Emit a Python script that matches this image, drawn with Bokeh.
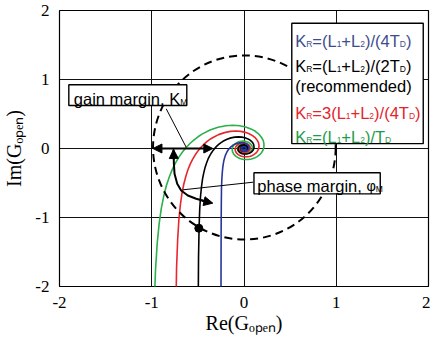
from bokeh.plotting import figure
from bokeh.models import Range1d, FixedTicker, Label, Arrow, NormalHead
from bokeh.embed import file_html
from bokeh.resources import INLINE

# ---------------- data ----------------
ticks = [-2, -1, 0, 1, 2]
tick_labels = ["-2", "-1", "0", "1", "2"]
x_title = "Re(G\u2092\u209a\u2091\u2099)"
y_title = "Im(G\u2092\u209a\u2091\u2099)"

# Nyquist curves
green_x = [-0.998,-0.993,-0.985,-0.974,-0.959,-0.941,-0.920,-0.897,-0.870,-0.842,-0.810,-0.777,-0.741,-0.704,-0.665,-0.625,-0.583,-0.541,-0.498,-0.455,
           -0.368,-0.281,-0.198,-0.120,-0.047,0.018,0.075,0.123,0.161,0.189,0.208,0.216,0.216,0.208,0.192,0.170,0.143,0.113,0.080,0.047,
           -0.003,-0.047,-0.084,-0.110,-0.125,-0.128,-0.120,-0.102,-0.076,-0.046,-0.013,0.018,0.046,0.069,0.084,0.091,0.090,0.081,0.065,0.045,
           0.013,-0.018,-0.045,-0.063,-0.071,-0.067,-0.053,-0.032,-0.007,0.018,0.039,0.053,0.058,0.054,0.042,
           0.019,-0.008,-0.031,-0.046,-0.049,
           -0.040,0.000,0.037,0.038,0.005]
green_y = [-9.950,-4.900,-3.184,-2.303,-1.755,-1.376,-1.093,-0.871,-0.691,-0.540,-0.412,-0.302,-0.206,-0.121,-0.047,0.018,0.076,0.126,0.170,0.208,
           0.268,0.307,0.330,0.337,0.330,0.312,0.284,0.249,0.208,0.163,0.117,0.070,0.024,-0.018,-0.057,-0.090,-0.118,-0.139,-0.153,-0.160,
           -0.159,-0.144,-0.118,-0.085,-0.046,-0.007,0.030,0.062,0.086,0.101,0.107,0.103,0.090,0.070,0.045,0.018,-0.009,-0.035,-0.055,-0.070,
           -0.080,-0.076,-0.061,-0.038,-0.010,0.018,0.042,0.058,0.064,0.060,0.047,0.027,0.005,-0.018,-0.037,
           -0.051,-0.052,-0.041,-0.020,0.004,
           0.026,0.045,0.023,-0.018,-0.040]

red_x = [-0.749,-0.745,-0.739,-0.731,-0.719,-0.706,-0.690,-0.673,-0.653,-0.631,-0.608,-0.583,-0.556,-0.528,-0.499,-0.469,-0.437,-0.406,-0.374,-0.341,
         -0.276,-0.211,-0.149,-0.090,-0.035,0.014,0.056,0.092,0.121,0.142,0.156,0.162,0.162,0.156,0.144,0.128,0.107,0.085,0.060,0.035,
         -0.002,-0.035,-0.063,-0.083,-0.094,-0.096,-0.090,-0.077,-0.057,-0.035,-0.010,0.014,0.035,0.052,0.063,0.068,0.068,0.061,0.049,0.034,
         0.010,-0.014,-0.034,-0.047,-0.053,-0.050,-0.040,-0.024,-0.005,0.014,0.029,0.040,0.044,0.041,0.032,
         0.014,-0.006,-0.023,-0.035,-0.037,
         -0.030,0.000,0.028,0.029,0.004]
red_y = [-7.463,-3.675,-2.388,-1.727,-1.316,-1.032,-0.820,-0.653,-0.518,-0.405,-0.309,-0.227,-0.155,-0.091,-0.035,0.014,0.057,0.095,0.128,0.156,
         0.201,0.230,0.248,0.253,0.248,0.234,0.213,0.187,0.156,0.122,0.088,0.053,0.018,-0.014,-0.043,-0.068,-0.089,-0.104,-0.115,-0.120,
         -0.119,-0.108,-0.089,-0.064,-0.035,-0.005,0.023,0.047,0.065,0.076,0.080,0.077,0.068,0.053,0.034,0.014,-0.007,-0.026,-0.041,-0.053,
         -0.060,-0.057,-0.046,-0.029,-0.008,0.014,0.032,0.044,0.048,0.045,0.035,0.020,0.004,-0.014,-0.028,
         -0.038,-0.039,-0.031,-0.015,0.003,
         0.020,0.034,0.017,-0.014,-0.030]

black_x = [-0.499,-0.497,-0.493,-0.487,-0.480,-0.471,-0.460,-0.449,-0.435,-0.421,-0.405,-0.389,-0.371,-0.352,-0.333,-0.313,-0.292,-0.271,-0.249,-0.228,
           -0.184,-0.141,-0.099,-0.060,-0.024,0.009,0.038,0.062,0.081,0.095,0.104,0.108,0.108,0.104,0.096,0.085,0.072,0.057,0.040,0.024,
           -0.002,-0.024,-0.042,-0.055,-0.063,-0.064,-0.060,-0.051,-0.038,-0.023,-0.007,0.009,0.023,0.035,0.042,0.046,0.045,0.041,0.033,0.023,
           0.007,-0.009,-0.023,-0.032,-0.036,-0.034,-0.027,-0.016,-0.004,0.009,0.020,0.027,0.029,0.027,0.021,
           0.010,-0.004,-0.016,-0.023,-0.025,
           -0.020,0.000,0.019,0.019,0.003]
black_y = [-4.975,-2.450,-1.592,-1.152,-0.878,-0.688,-0.547,-0.436,-0.346,-0.270,-0.206,-0.151,-0.103,-0.061,-0.024,0.009,0.038,0.063,0.085,0.104,
           0.134,0.154,0.165,0.169,0.165,0.156,0.142,0.125,0.104,0.082,0.059,0.035,0.012,-0.009,-0.029,-0.045,-0.059,-0.070,-0.077,-0.080,
           -0.080,-0.072,-0.059,-0.043,-0.023,-0.004,0.015,0.031,0.043,0.051,0.054,0.052,0.045,0.035,0.023,0.009,-0.005,-0.018,-0.028,-0.035,
           -0.040,-0.038,-0.031,-0.019,-0.005,0.009,0.021,0.029,0.032,0.030,0.024,0.014,0.003,-0.009,-0.019,
           -0.026,-0.026,-0.021,-0.010,0.002,
           0.013,0.023,0.012,-0.009,-0.020]

blue_x = [-0.250,-0.248,-0.246,-0.244,-0.240,-0.235,-0.230,-0.224,-0.218,-0.210,-0.203,-0.194,-0.185,-0.176,-0.166,-0.156,-0.146,-0.135,-0.125,-0.114,
          -0.092,-0.070,-0.050,-0.030,-0.012,0.005,0.019,0.031,0.040,0.047,0.052,0.054,0.054,0.052,0.048,0.042,0.036,0.028,0.020,0.012,
          -0.001,-0.012,-0.021,-0.028,-0.031,-0.032,-0.030,-0.025,-0.019,-0.011,-0.003,0.005,0.012,0.017,0.021,0.023,0.022,0.020,0.016,0.011,
          0.003,-0.005,-0.011,-0.016,-0.018]
blue_y = [-2.488,-1.225,-0.796,-0.576,-0.439,-0.344,-0.273,-0.218,-0.173,-0.135,-0.103,-0.076,-0.051,-0.030,-0.012,0.005,0.019,0.032,0.043,0.052,
          0.067,0.077,0.082,0.084,0.083,0.078,0.071,0.062,0.052,0.041,0.029,0.018,0.006,-0.005,-0.014,-0.023,-0.029,-0.035,-0.038,-0.040,
          -0.040,-0.036,-0.030,-0.021,-0.012,-0.002,0.008,0.015,0.022,0.025,0.027,0.026,0.022,0.018,0.011,0.004,-0.002,-0.009,-0.014,-0.018,
          -0.020,-0.019,-0.015,-0.009,-0.002]

# unit circle as it appears in the picture (dashed)
circle_x, circle_y, circle_w, circle_h = 0.004, 0.015, 1.98, 2.67

# margin annotations
gain_arrow_x = [-0.987, -0.338]
gain_arrow_y = [0.0, 0.0]
phase_arc_x = [-0.764, -0.760, -0.753, -0.724, -0.681, -0.609, -0.519, -0.40]
phase_arc_y = [-0.014, -0.222, -0.367, -0.512, -0.609, -0.681, -0.729, -0.772]
phase_tip_start = (-0.761, -0.16, -0.764, -0.014)
phase_tip_end = (-0.46, -0.755, -0.338, -0.792)
crossing_x = [-0.49]
crossing_y = [-1.155]
gain_leader_x = [-0.843, -0.627]
gain_leader_y = [0.575, 0.019]
phase_leader_x = [0.10, -0.663]
phase_leader_y = [-0.488, -0.599]

# boxes: left, right, top, bottom
legend_box = (0.518, 1.943, 1.816, 0.07)
gain_box = (-1.899, -0.62, 0.923, 0.623)
phase_box = (0.108, 1.477, -0.352, -0.657)

C_GREEN = "#2bb04a"
C_RED = "#e8262d"
C_BLACK = "#000000"
C_BLUE = "#26369a"
T_BLUE = "#3d4c8c"
T_GREEN = "#1e9a4a"
T_RED = "#e3242b"

SANS = "Liberation Sans"
SERIF = "Liberation Serif"

# ---------------- figure ----------------
p = figure(width=430, height=345, output_backend="svg", toolbar_location=None,
           x_range=Range1d(-2, 2), y_range=Range1d(-2, 2),
           min_border_left=58, min_border_right=2, min_border_top=10, min_border_bottom=59)
p.background_fill_color = "white"
p.border_fill_color = "white"
p.outline_line_color = "black"
p.outline_line_width = 1.2

for ax in (p.xaxis, p.yaxis):
    ax.ticker = FixedTicker(ticks=ticks)
    ax.major_label_overrides = dict(zip(ticks, tick_labels))
    ax.axis_line_color = None
    ax.major_tick_line_color = None
    ax.minor_tick_line_color = None
    ax.major_label_text_font = SERIF
    ax.major_label_text_font_size = "17px"
    ax.major_label_text_color = "black"
    ax.major_label_standoff = 4
    ax.axis_label_text_font = SERIF
    ax.axis_label_text_font_size = "20px"
    ax.axis_label_text_font_style = "normal"
    ax.axis_label_text_color = "black"
p.xaxis.axis_label = x_title
p.yaxis.axis_label = y_title
p.xaxis.axis_label_standoff = 1
p.yaxis.axis_label_standoff = 7

p.grid.grid_line_color = "#111111"
p.grid.grid_line_width = 1

# curves
p.line(green_x, green_y, line_color=C_GREEN, line_width=1.6)
p.line(red_x, red_y, line_color=C_RED, line_width=1.6)
p.line(black_x, black_y, line_color=C_BLACK, line_width=1.6)
p.line(blue_x, blue_y, line_color=C_BLUE, line_width=1.6)

p.ellipse(x=[circle_x], y=[circle_y], width=[circle_w], height=[circle_h],
          fill_color=None, line_color="black", line_width=2, line_dash="8 5")

# leaders
p.line(gain_leader_x, gain_leader_y, line_color="black", line_width=1)
p.line(phase_leader_x, phase_leader_y, line_color="black", line_width=1)

# phase arc and gain arrow
p.line(phase_arc_x, phase_arc_y, line_color="black", line_width=2)
head = lambda: NormalHead(size=9, fill_color="black", line_color="black", line_width=1)
p.add_layout(Arrow(start=head(), end=head(), x_start=gain_arrow_x[0], y_start=gain_arrow_y[0],
                   x_end=gain_arrow_x[1], y_end=gain_arrow_y[1], line_width=2, line_color="black"))
p.add_layout(Arrow(end=head(), x_start=phase_tip_start[0], y_start=phase_tip_start[1],
                   x_end=phase_tip_start[2], y_end=phase_tip_start[3], line_width=2, line_color="black"))
p.add_layout(Arrow(end=head(), x_start=phase_tip_end[0], y_start=phase_tip_end[1],
                   x_end=phase_tip_end[2], y_end=phase_tip_end[3], line_width=2, line_color="black"))

p.scatter(crossing_x, crossing_y, size=8, color="black")

# boxes
for (l, r, t, b) in (legend_box, gain_box, phase_box):
    p.quad(left=[l], right=[r], top=[t], bottom=[b], fill_color="white",
           line_color="black", line_width=1.4)

# ---------------- rich text helper ----------------
W_SANS = {' ': 278, '(': 333, ')': 333, '+': 584, ',': 278, '/': 278, '=': 584,
          '1': 556, '2': 556, '3': 556, '4': 556, 'D': 722, 'K': 667, 'L': 556,
          'M': 833, 'R': 722, 'T': 611, 'a': 556, 'c': 500, 'd': 556, 'e': 556,
          'g': 556, 'h': 556, 'i': 222, 'm': 833, 'n': 556, 'o': 556, 'p': 556,
          'r': 333, 's': 500, 'φ': 650}


def tw(s, size):
    return sum(W_SANS.get(ch, 556) for ch in s) * size / 1000.0


def rich(x, y, pieces, color, size=16.5, sub=8.5):
    off = 0.0
    for txt, kind in pieces:
        fs = size if kind == "n" else (sub if kind == "s" else 14.5)
        dy = -3 if kind == "s" else 0
        p.add_layout(Label(x=x, y=y, x_offset=off, y_offset=dy, text=txt,
                           text_font=SANS, text_font_size=f"{fs}px",
                           text_color=color, text_align="left", text_baseline="alphabetic"))
        off += tw(txt, fs)


leg_x = 0.555
rich(leg_x, 1.565, [("K", "n"), ("R", "s"), ("=(L", "n"), ("1", "s"), ("+L", "n"), ("2", "s"),
                    (")/(4T", "n"), ("D", "s"), (")", "n")], T_BLUE)
rich(leg_x, 1.196, [("K", "n"), ("R", "s"), ("=(L", "n"), ("1", "s"), ("+L", "n"), ("2", "s"),
                    (")/(2T", "n"), ("D", "s"), (")", "n")], "black")
rich(leg_x, 0.903, [("(recommended)", "n")], "black")
rich(leg_x, 0.512, [("K", "n"), ("R", "s"), ("=3(L", "n"), ("1", "s"), ("+L", "n"), ("2", "s"),
                    (")/(4T", "n"), ("D", "s"), (")", "n")], T_RED)
rich(leg_x, 0.164, [("K", "n"), ("R", "s"), ("=(L", "n"), ("1", "s"), ("+L", "n"), ("2", "s"),
                    (")/T", "n"), ("D", "s")], T_GREEN)

rich(-1.845, 0.72, [("gain margin, K", "n"), ("M", "s")], "black")
rich(0.144, -0.546, [("phase margin, ", "n"), ("φ", "g"), ("M", "s")], "black")

open("out.html", "w").write(file_html(p, INLINE))
